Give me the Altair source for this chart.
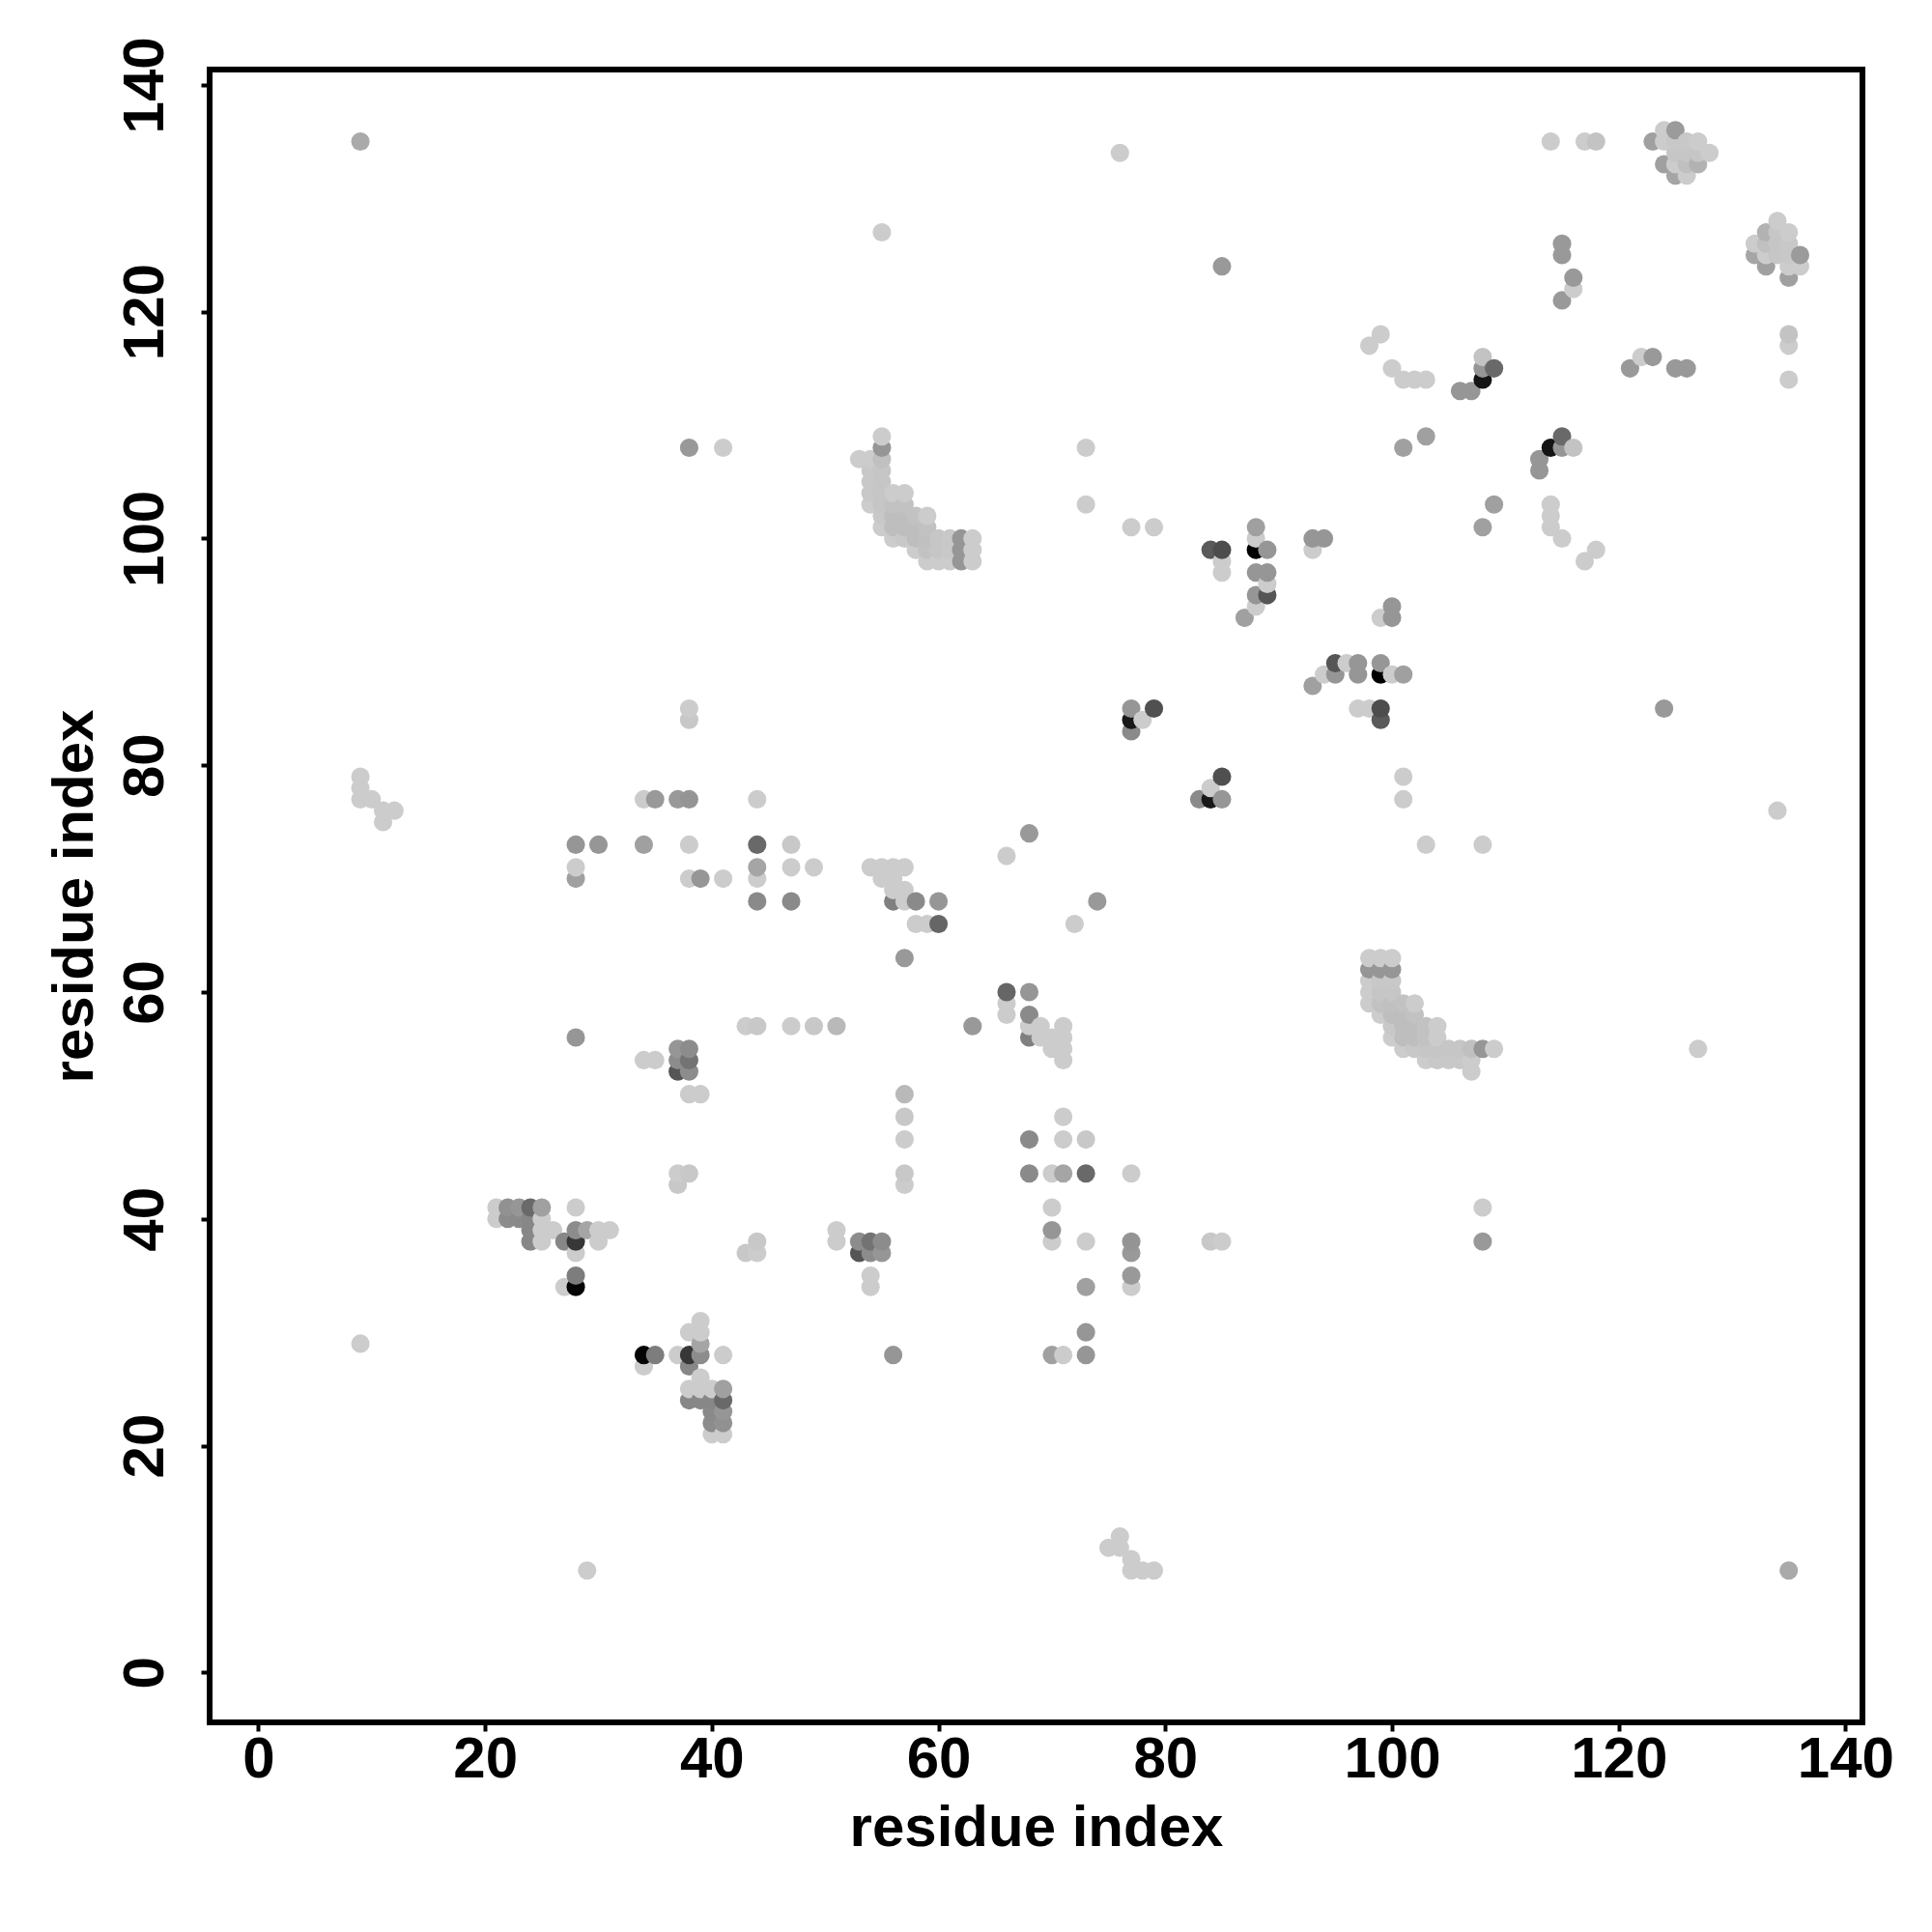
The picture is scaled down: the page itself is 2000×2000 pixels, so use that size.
import altair as alt
import pandas as pd

# Contacts above the diagonal: (residue i, residue j, grey level). The map is symmetric.
group_far = [(9,135,170),(55,127,204),(38,108,153),(41,108,204),(38,85,204),(38,84,200),
             (9,79,204),(9,78,204),(9,77,204),(10,77,204),(11,76,204),(12,76,204),(11,75,204),(9,29,204)]
group_row77 = [(34,77,204),(35,77,153),(37,77,153),(38,77,148),(44,77,204),
               (28,73,150),(30,73,150),(34,73,160),(38,73,204),(44,73,105),(47,73,200),
               (28,71,204),(44,71,165),(47,71,204),(49,71,204),(54,71,204),(55,71,204),(56,71,204),(57,71,204),
               (28,70,160),(38,70,204),(39,70,150),(41,70,204),(44,70,204),(55,70,204),(56,70,204),
               (56,69,204),(57,69,204),
               (44,68,138),(47,68,138),(56,68,128),(57,68,204),(58,68,138),(60,68,150),
               (58,66,204),(59,66,204),(60,66,102),(57,63,153),(66,72,204),(68,74,153)]
group_arc = [(53,107,204),(54,107,204),(54,106,200),(54,105,200),(54,104,200),(54,103,204),
             (55,109,204),(55,108,150),(55,107,192),(55,106,198),(55,105,198),(55,104,198),(55,103,198),(55,102,200),(55,101,204),
             (56,104,204),(56,103,194),(56,102,190),(56,101,190),(56,100,204),
             (57,104,204),(57,103,194),(57,102,190),(57,101,190),(57,100,200),
             (58,102,194),(58,101,190),(58,100,190),(58,99,204),
             (59,102,204),(59,101,194),(59,100,192),(59,99,194),(59,98,204),
             (60,100,198),(60,99,198),(60,98,204),(61,100,200),(61,99,200),(61,98,204),
             (62,100,150),(62,99,150),(62,98,150),(63,100,204),(63,99,204),(63,98,204)]
group_mid = [(76,134,204),(85,124,153),(73,108,204),(73,103,204),(77,101,204),(79,101,204),
             (84,99,90),(85,99,77),(85,98,204),(85,97,204),
             (88,101,160),(88,100,204),(88,99,0),(89,99,150),(88,97,150),(89,97,150),(89,96,204),
             (88,95,150),(89,95,85),(88,94,204),(87,93,160),(93,100,150),(94,100,150),(93,99,204),
             (77,85,150),(79,85,80),(77,84,25),(78,84,204),(77,83,138)]
group_upper = [(101,108,160),(103,109,160),(98,117,204),(99,118,204),(100,115,204),(101,114,204),(102,114,204),(103,114,204),
               (108,116,195),(108,115,150),(109,115,105),(108,114,20),(106,113,150),(107,113,150),
               (114,135,204),(117,135,204),(118,135,195),
               (115,126,153),(115,125,153),(116,123,153),(116,122,204),(115,121,153)]
group_cluster = [(123,135,160),(124,136,204),(125,136,155),(124,135,204),(125,135,200),(126,135,200),(127,135,204),
                 (125,134,198),(126,134,198),(127,134,198),(128,134,204),(124,133,160),(125,133,204),(126,133,192),
                 (127,133,178),(125,132,165),(126,132,204)]
group_low = [(28,56,150),(43,57,204),(44,57,200),(47,57,204),(49,57,200),(51,57,185),
             (34,54,204),(35,54,204),(37,55,150),(38,55,140),(37,54,140),(38,54,115),(37,53,85),(38,53,140),(38,51,204),(39,51,204),
             (37,44,204),(38,44,200),(37,43,200)]
group_diag = [(21,41,204),(22,41,145),(23,41,150),(24,41,105),(25,41,160),(28,41,204),
              (21,40,204),(22,40,140),(23,40,138),(24,40,135),(25,40,204),
              (24,39,135),(25,39,204),(26,39,204),(28,39,140),(29,39,165),(30,39,204),(31,39,204),
              (24,38,135),(25,38,204),(27,38,135),(28,38,55),(30,38,204),
              (28,37,204),(28,35,125),(28,34,5),(27,34,204)]

tick_values = [0, 20, 40, 60, 80, 100, 120, 140]
axis_title = "residue index"

contacts = group_far + group_row77 + group_arc + group_mid + group_upper + group_cluster + group_low + group_diag
rows = []
for i, j, g in contacts:
    rows.append((i, j, g))
    rows.append((j, i, g))
df = pd.DataFrame(rows, columns=["x", "y", "g"]).drop_duplicates(["x", "y"]).sort_values(["x", "y"])
df["shade"] = ["#%02x%02x%02x" % (g, g, g) for g in df["g"]]

FONT = "Liberation Sans"

def axis(orient_kwargs):
    return alt.Axis(values=tick_values, title=axis_title, grid=False, domain=False,
                    tickColor="black", tickSize=9, tickWidth=4,
                    labelFont=FONT, labelFontSize=60, labelFontWeight="bold", labelColor="black",
                    titleFont=FONT, titleFontSize=60, titleFontWeight="bold", titleColor="black",
                    labelOverlap=False, labelFlush=False, **orient_kwargs)

chart = (
    alt.Chart(df)
    .mark_circle(size=365, opacity=1, strokeWidth=0)
    .encode(
        x=alt.X("x:Q", scale=alt.Scale(domain=[-4.3, 141.5], nice=False, zero=False),
                axis=axis(dict(labelPadding=0, titlePadding=12))),
        y=alt.Y("y:Q", scale=alt.Scale(domain=[-4.4, 141.35], nice=False, zero=False),
                axis=axis(dict(labelAngle=270, labelAlign="center", labelBaseline="bottom",
                               labelPadding=27, titlePadding=12))),
        color=alt.Color("shade:N", scale=None, legend=None),
    )
    .properties(width=1711, height=1711, background="white",
                autosize=alt.AutoSizeParams(type="none"),
                padding={"left": 209, "top": 64, "right": 64, "bottom": 200})
    .configure_view(stroke="black", strokeWidth=6, fill="white")
)
chart.save("out.html", embed_options={"renderer": "svg", "actions": False})
